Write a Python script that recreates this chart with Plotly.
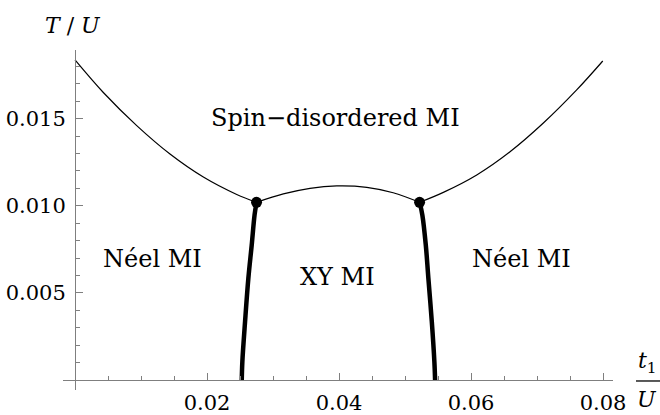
import plotly.graph_objects as go

# ---- data ----
# upper (spin-disordered) boundary, left branch
upper_left_x = [0.0, 0.00429, 0.00935, 0.01439, 0.01944, 0.0245, 0.0275]
upper_left_T = [0.01837, 0.0165, 0.0146, 0.01297, 0.01165, 0.01065, 0.0102]
# dome above XY MI
dome_x = [0.0275, 0.03156, 0.0356, 0.03965, 0.0442, 0.0482, 0.0522]
dome_T = [0.0102, 0.01068, 0.0110, 0.01114, 0.01106, 0.01075, 0.0102]
# upper boundary, right branch
upper_right_x = [0.0522, 0.0558, 0.06086, 0.0659, 0.07095, 0.076, 0.07995]
upper_right_T = [0.0102, 0.01077, 0.01177, 0.0131, 0.01475, 0.01665, 0.01831]
# Néel / XY boundaries (thick)
left_bound_x = [0.02526, 0.02535, 0.02576, 0.02626, 0.02677, 0.0272, 0.0275]
left_bound_T = [0.0, 0.00105, 0.00335, 0.00584, 0.00775, 0.00947, 0.0102]
right_bound_x = [0.05455, 0.05444, 0.05405, 0.05353, 0.05314, 0.05262, 0.0522]
right_bound_T = [0.0, 0.00105, 0.00335, 0.00584, 0.00775, 0.00947, 0.0102]
# multicritical points
crit_x = [0.0275, 0.0522]
crit_T = [0.0102, 0.0102]

# ticks
x_tickvals = [0.02, 0.04, 0.06, 0.08]
x_ticktext = ["0.02", "0.04", "0.06", "0.08"]
y_tickvals = [0.005, 0.010, 0.015]
y_ticktext = ["0.005", "0.010", "0.015"]

# region labels
region_text = ["Spin\u2212disordered MI", "Néel MI", "XY MI", "Néel MI"]
region_x = [0.0395, 0.01174, 0.0398, 0.0677]
region_T = [0.01505, 0.00697, 0.0059, 0.00697]

XMIN, XMAX = -0.00182, 0.0815
YMIN, YMAX = -0.00057, 0.01894
FONT = "DejaVu Serif"
AXC = "#7f7f7f"

fig = go.Figure()
thin = dict(color="black", width=1.2, shape="spline", smoothing=1.0)
fig.add_trace(go.Scatter(x=upper_left_x, y=upper_left_T, mode="lines", line=thin, hoverinfo="skip"))
fig.add_trace(go.Scatter(x=dome_x, y=dome_T, mode="lines", line=thin, hoverinfo="skip"))
fig.add_trace(go.Scatter(x=upper_right_x, y=upper_right_T, mode="lines", line=thin, hoverinfo="skip"))
thick = dict(color="black", width=4.5, shape="spline", smoothing=1.0)
fig.add_trace(go.Scatter(x=left_bound_x, y=left_bound_T, mode="lines", line=thick, hoverinfo="skip"))
fig.add_trace(go.Scatter(x=right_bound_x, y=right_bound_T, mode="lines", line=thick, hoverinfo="skip"))
fig.add_trace(go.Scatter(x=crit_x, y=crit_T, mode="markers",
                         marker=dict(color="black", size=11), hoverinfo="skip"))

for t, x, y in zip(region_text, region_x, region_T):
    fig.add_annotation(x=x, y=y, text=t, showarrow=False,
                       xanchor="center", yanchor="middle",
                       font=dict(family=FONT, size=24, color="black"))

ypos0 = (0 - YMIN) / (YMAX - YMIN)
xpos0 = (0 - XMIN) / (XMAX - XMIN)

fig.update_xaxes(range=[XMIN, XMAX], showgrid=False, zeroline=False,
                 showline=True, linecolor=AXC, linewidth=1,
                 anchor="free", position=ypos0, automargin=False,
                 tickmode="array", tickvals=x_tickvals, ticktext=x_ticktext,
                 ticks="inside", ticklen=7, tickcolor=AXC, tickwidth=1,
                 ticklabelstandoff=4,
                 tickfont=dict(family=FONT, size=21, color="black"),
                 minor=dict(tick0=0, dtick=0.005, ticks="inside", ticklen=4,
                            tickcolor=AXC, tickwidth=1, showgrid=False))
fig.update_yaxes(range=[YMIN, YMAX], showgrid=False, zeroline=False,
                 showline=True, linecolor=AXC, linewidth=1,
                 anchor="free", position=xpos0, automargin=False,
                 tickmode="array", tickvals=y_tickvals, ticktext=y_ticktext,
                 ticks="inside", ticklen=7, tickcolor=AXC, tickwidth=1,
                 ticklabelstandoff=5,
                 tickfont=dict(family=FONT, size=21, color="black"),
                 minor=dict(tick0=0, dtick=0.001, ticks="inside", ticklen=4,
                            tickcolor=AXC, tickwidth=1, showgrid=False))

# axis titles
fig.add_annotation(xref="paper", yref="paper", x=0.018, y=1.0735,
                   xanchor="center", yanchor="middle",
                   text="<i>T</i> / <i>U</i>", showarrow=False,
                   font=dict(family=FONT, size=22, color="black"))
fig.add_annotation(xref="paper", yref="paper", x=1.0636, y=0.032,
                   yanchor="bottom", xanchor="center",
                   text="<i>t</i><sub>1</sub>", showarrow=False,
                   font=dict(family=FONT, size=22, color="black"))
fig.add_annotation(xref="paper", yref="paper", x=1.0618, y=0.016,
                   yanchor="top", xanchor="center",
                   text="<i>U</i>", showarrow=False,
                   font=dict(family=FONT, size=22, color="black"))
fig.add_shape(type="line", xref="paper", yref="paper",
              x0=1.0418, x1=1.09, y0=0.0265, y1=0.0265,
              line=dict(color="black", width=1.3))

fig.update_layout(width=660, height=415, showlegend=False,
                  margin=dict(l=63, r=47, t=50, b=25),
                  paper_bgcolor="white", plot_bgcolor="white")

fig.write_html("out.html", config={"displayModeBar": False},
               post_script="document.body.style.margin='0px';"
                           "document.body.style.overflow='hidden';")
